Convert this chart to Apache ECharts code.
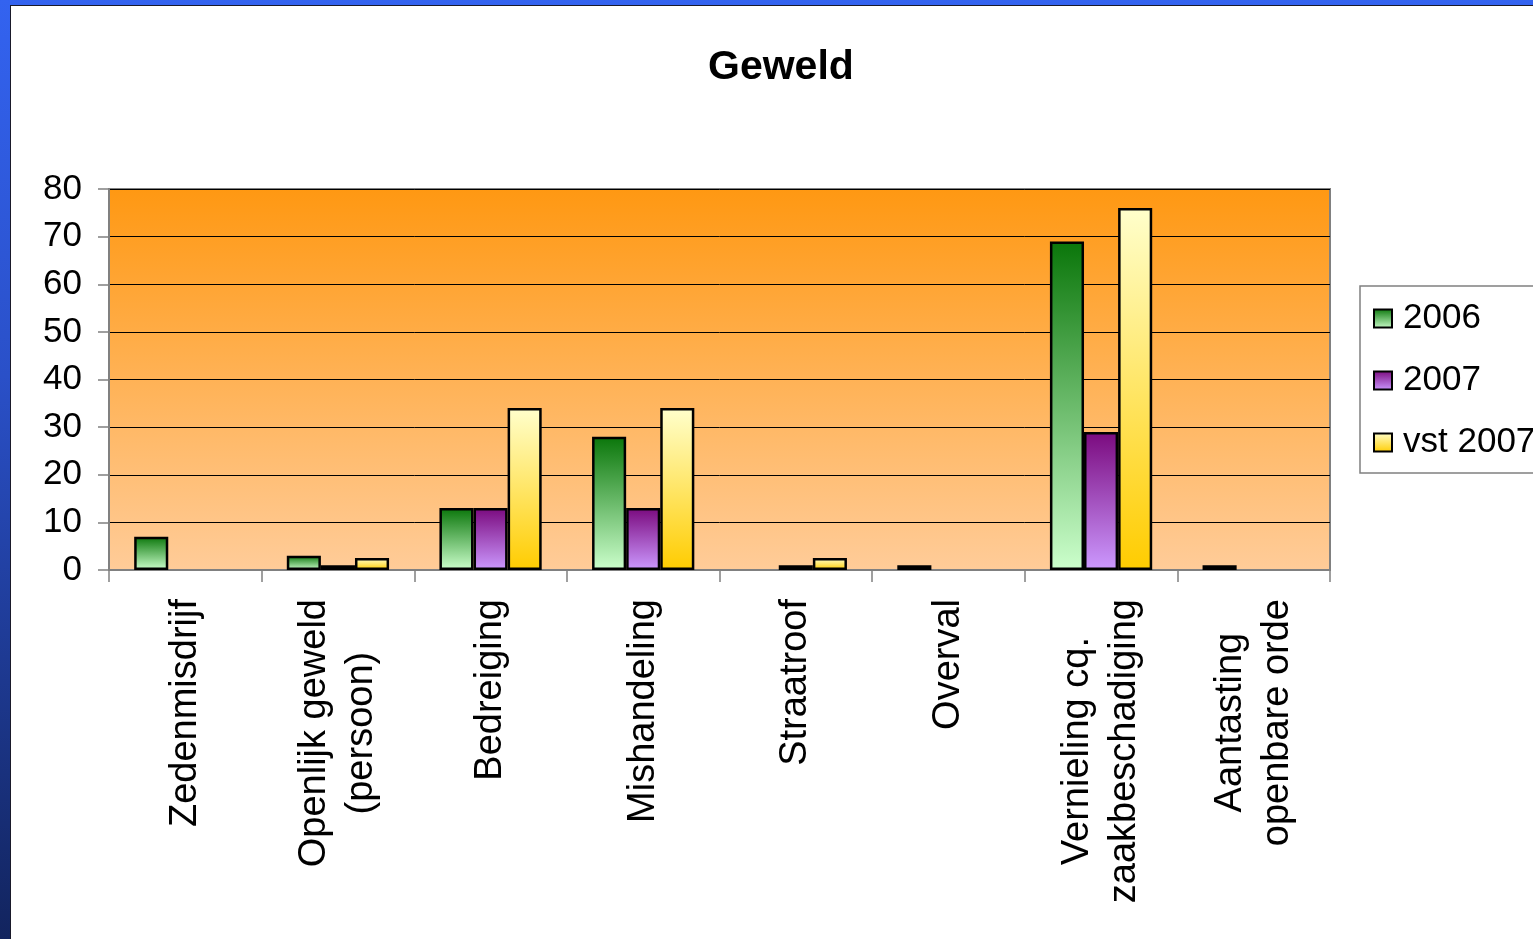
<!DOCTYPE html>
<html>
<head>
<meta charset="utf-8">
<script src="https://cdn.jsdelivr.net/npm/echarts@6/dist/echarts.min.js"></script>
<style>
  html, body { margin: 0; padding: 0; width: 1533px; height: 939px; overflow: hidden; }
  body { background: linear-gradient(to bottom, #3363F0 0%, #2A50C8 40%, #12245E 100%); position: relative; }
  #paper { position: absolute; left: 10px; top: 5px; right: 0; bottom: 0; background: #ffffff;
           border-left: 1px solid #1a1a2a; border-top: 1px solid #1a1a2a; }
  #chart { position: absolute; left: 0; top: 0; width: 1533px; height: 939px; }
</style>
</head>
<body>
<div id="paper"></div>
<div id="chart"></div>
<script>
const categories = [
  'Zedenmisdrijf',
  'Openlijk geweld\n(persoon)',
  'Bedreiging',
  'Mishandeling',
  'Straatroof',
  'Overval',
  'Vernieling cq.\nzaakbeschadiging',
  'Aantasting\nopenbare orde'
];
const seriesNames = ['2006', '2007', 'vst 2007'];
const values2006 = [7, 3, 13, 28, null, 1, 69, 1];
const values2007 = [null, 1, 13, 13, 1, null, 29, null];
const valuesVst2007 = [null, 2.5, 34, 34, 2.5, null, 76, null];
const yTicks = { min: 0, max: 80, interval: 10 };

const FONT = "'Liberation Sans', Arial, sans-serif";

function grad(top, bottom) {
  return new echarts.graphic.LinearGradient(0, 0, 0, 1, [
    { offset: 0, color: top },
    { offset: 1, color: bottom }
  ]);
}

const barStyle = (top, bottom) => ({
  color: grad(top, bottom),
  borderColor: '#000000',
  borderWidth: 2.5
});

const chart = echarts.init(document.getElementById('chart'), null, { renderer: 'canvas' });

chart.setOption({
  backgroundColor: 'transparent',
  animation: false,
  title: {
    text: 'Geweld',
    left: 708,
    top: 47,
    padding: 0,
    textStyle: { fontFamily: FONT, fontSize: 41, fontWeight: 'bold', color: '#000000' }
  },
  legend: {
    orient: 'vertical',
    left: 1360,
    top: 286,
    padding: [15, 40, 13, 13],
    itemGap: 27,
    itemWidth: 18,
    itemHeight: 18,
    icon: 'rect',
    backgroundColor: '#ffffff',
    borderColor: '#808080',
    borderWidth: 1.5,
    textStyle: { fontFamily: FONT, fontSize: 35, color: '#000000', padding: [0, 0, 0, 6] },
    data: seriesNames
  },
  grid: {
    left: 109,
    top: 189,
    right: 203,
    bottom: 369,
    show: true,
    backgroundColor: grad('#FF9812', '#FFCC99'),
    borderColor: '#808080',
    borderWidth: 2
  },
  xAxis: {
    type: 'category',
    data: categories,
    axisLine: { show: true, lineStyle: { color: '#808080', width: 2 } },
    axisTick: { show: true, alignWithLabel: false, length: 12, lineStyle: { color: '#808080', width: 1.5 } },
    axisLabel: {
      interval: 0,
      rotate: 90,
      margin: 29,
      color: '#000000',
      fontFamily: FONT,
      fontSize: 38,
      formatter: v => v.split('\n').map(l => '{c|' + l + '}').join('\n'),
      rich: {
        c: { align: 'center', fontFamily: FONT, fontSize: 38, lineHeight: 47, color: '#000000' }
      }
    },
    splitLine: { show: false }
  },
  yAxis: {
    type: 'value',
    min: yTicks.min,
    max: yTicks.max,
    interval: yTicks.interval,
    axisLine: { show: true, lineStyle: { color: '#808080', width: 2 } },
    axisTick: { show: true, length: 11, lineStyle: { color: '#808080', width: 1.5 } },
    axisLabel: { margin: 27, color: '#000000', fontFamily: FONT, fontSize: 35 },
    splitLine: { show: true, lineStyle: { color: '#000000', width: 1 } }
  },
  series: [
    {
      name: seriesNames[0], type: 'bar', data: values2006,
      barGap: '0%', barCategoryGap: '33%',
      itemStyle: barStyle('#0A760A', '#CCFFCC')
    },
    {
      name: seriesNames[1], type: 'bar', data: values2007,
      barGap: '0%', barCategoryGap: '33%',
      itemStyle: barStyle('#7A0A7E', '#CC99FF')
    },
    {
      name: seriesNames[2], type: 'bar', data: valuesVst2007,
      barGap: '0%', barCategoryGap: '33%',
      itemStyle: barStyle('#FFFFCC', '#FFCC00')
    }
  ]
});
</script>
</body>
</html>
